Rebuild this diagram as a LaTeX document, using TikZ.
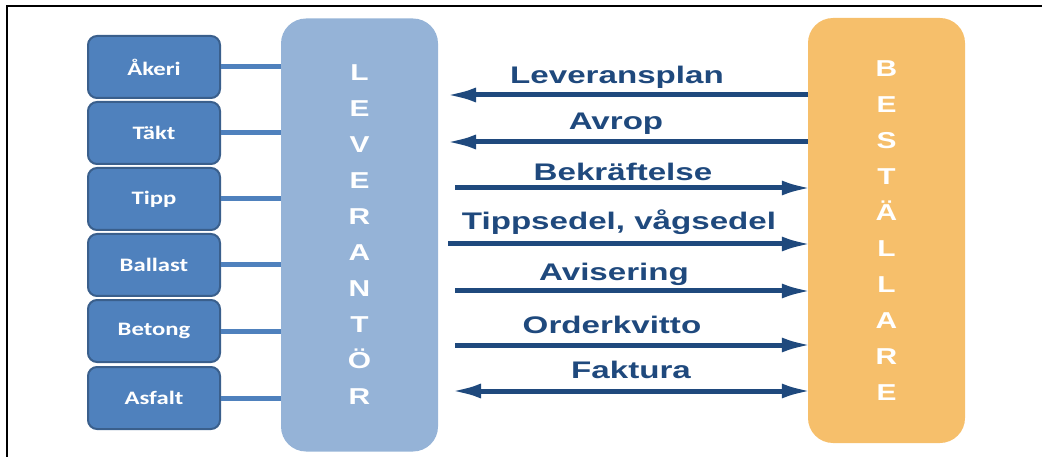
\documentclass[tikz,border=0pt]{standalone}
\usepackage{fontspec}
\setmainfont{Liberation Sans}
\newfontfamily\boxfont{Carlito}[FakeStretch=1.3]
\newfontfamily\letterfont{Liberation Sans}[FakeStretch=1.3]
\newfontfamily\msgfont{Liberation Sans}[FakeStretch=1.38]
\usepackage{tikz}
\usetikzlibrary{positioning, calc, arrows.meta}

\definecolor{boxblue}{HTML}{4F81BD}
\definecolor{boxedge}{HTML}{3A5F8C}
\definecolor{levblue}{HTML}{95B3D7}
\definecolor{bestorange}{HTML}{F6BF6B}
\definecolor{msgblue}{HTML}{1F497D}

\tikzset{
  unit/.style={draw=boxedge, line width=2pt, fill=boxblue, rounded corners=9pt,
    minimum width=132pt, minimum height=62pt, text=white,
    font=\boxfont\bfseries\fontsize{19}{19}\selectfont},
  party/.style={rounded corners=25pt, minimum width=157pt, text=white, align=center,
    font=\letterfont\bfseries\fontsize{23}{36}\selectfont},
  link/.style={boxblue, line width=5pt},
  msg/.style={msgblue, line width=5pt, shorten >=-4pt},
  tip/.tip={Latex[length=30pt, width=15pt]},
  msglabel/.style={text=msgblue, font=\msgfont\bfseries\fontsize{24}{24}\selectfont}
}

\begin{document}
\begin{tikzpicture}[x=1pt, y=-1pt]
        \useasboundingbox (0,0) rectangle (1042,457);
        % frame
        \draw[line width=2pt] (7,457) -- (7,6) -- (1042,6);
        % nodes
        \node[party, fill=levblue, minimum height=433pt] (lev) at (359.5, 235)
          {L\\E\\V\\E\\R\\A\\N\\T\\Ö\\R};
        \node[party, fill=bestorange, minimum height=425pt] (best) at (886.5, 230.5)
          {B\\E\\S\\T\\Ä\\L\\L\\A\\R\\E};
        \node[unit] (akeri)   at (154, 67)  {Åkeri};
        \node[unit] (takt)    at (154, 133) {Täkt};
        \node[unit] (tipp)    at (154, 199) {Tipp};
        \node[unit] (ballast) at (154, 265) {Ballast};
        \node[unit] (betong)  at (154, 331) {Betong};
        \node[unit] (asfalt)  at (154, 398) {Asfalt};
        % lines to leverantor
        \draw[link] (akeri.east)   -- (akeri -| lev.west);
        \draw[link] (takt.east)    -- (takt -| lev.west);
        \draw[link] (tipp.east)    -- (tipp -| lev.west);
        \draw[link] (ballast.east) -- (ballast -| lev.west);
        \draw[link] (betong.east)  -- (betong -| lev.west);
        \draw[link] (asfalt.east)  -- (asfalt -| lev.west);
        % message ends
        \coordinate (plan)    at (450, 95);
        \coordinate (avrop)   at (450, 142);
        \coordinate (bekr)    at (455, 188);
        \coordinate (tippsed) at (448, 244);
        \coordinate (avis)    at (455, 291);
        \coordinate (order)   at (455, 345);
        \coordinate (faktura) at (455, 391);
        % arrows
        \draw[msg, -tip]    (plan -| best.west)  -- (plan);
        \draw[msg, -tip]    (avrop -| best.west) -- (avrop);
        \draw[msg, -tip]    (bekr)    -- (bekr -| best.west);
        \draw[msg, -tip]    (tippsed) -- (tippsed -| best.west);
        \draw[msg, -tip]    (avis)    -- (avis -| best.west);
        \draw[msg, -tip]    (order)   -- (order -| best.west);
        \draw[msg, tip-tip, shorten <=-4pt] (faktura) -- (faktura -| best.west);
        % labels
        \node[msglabel] (plan-l)    at (617, 77)  {Leveransplan};
        \node[msglabel] (avrop-l)   at (616, 124) {Avrop};
        \node[msglabel] (bekr-l)    at (623, 172) {Bekräftelse};
        \node[msglabel] (tippsed-l) at (619, 222) {Tippsedel, vågsedel};
        \node[msglabel] (avis-l)    at (614, 274) {Avisering};
        \node[msglabel] (order-l)   at (612, 325) {Orderkvitto};
        \node[msglabel] (faktura-l) at (631, 370) {Faktura};
\end{tikzpicture}
\end{document}
